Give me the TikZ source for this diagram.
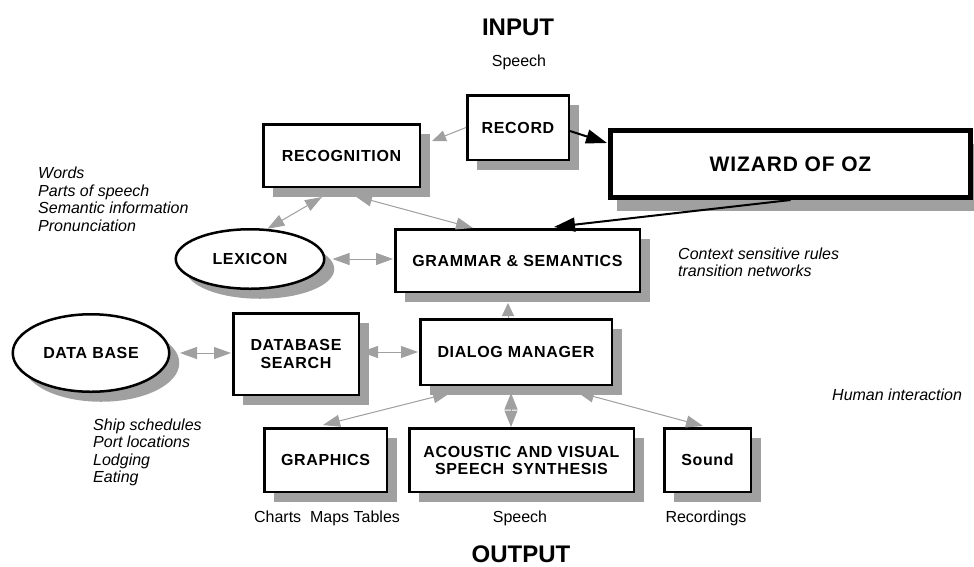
\documentclass[tikz,border=0pt]{standalone}
\usepackage{fontspec}
\setmainfont{Liberation Sans}
\newfontfamily\boxfont{Liberation Sans}[LetterSpace=4]
\usetikzlibrary{shadows,shapes.geometric,arrows.meta,calc}
\definecolor{shade}{HTML}{A0A0A0}
\tikzset{
  sh/.style={drop shadow={shadow xshift=10pt,shadow yshift=-10pt,fill=shade,opacity=1}},
  boxbase/.style={draw=black,line width=2.5pt,fill=white,rectangle,inner sep=0pt,align=center,
    font=\boxfont\bfseries\fontsize{16}{18}\selectfont},
  box/.style={boxbase,sh},
  oval/.style={boxbase,ellipse,sh},
  title/.style={inner sep=0pt,font=\bfseries\fontsize{24}{28}\selectfont},
  lab/.style={inner sep=0pt,font=\fontsize{16}{18}\selectfont},
  itl/.style={inner sep=0pt,align=left,anchor=west,font=\itshape\fontsize{16}{17.5}\selectfont},
  gdbl/.style={draw=shade,fill=shade,line width=1pt,>={Triangle[length=17pt,width=12pt]},<->},
  gone/.style={draw=shade,fill=shade,line width=1pt,>={Triangle[length=14pt,width=11pt]},->},
  gup/.style={draw=shade,fill=shade,line width=1pt,>={Triangle[length=13pt,width=12pt]},->},
  diam/.style={draw=shade,fill=shade,line width=1pt,>={Triangle[length=16.5pt,width=13pt]},<->},
  bone/.style={draw=black,fill=black,line width=2pt,>={Triangle[length=21pt,width=14pt]},->},
}
\begin{document}
\begin{tikzpicture}[x=1pt,y=-1pt]
\useasboundingbox (0,0) rectangle (974,566);
% titles and labels
\node[title] (inp) at (518,27) {INPUT};
\node[lab] (spin) at (519,62) {Speech};
\node[title] (outp) at (521,554) {OUTPUT};
\node[lab] (charts) at (327,518) {Charts\ \ Maps Tables};
\node[lab] (spout) at (520,518) {Speech};
\node[lab] (recs) at (706,518) {Recordings};
\node[itl] (words) at (38,199.5) {Words\\Parts of speech\\Semantic information\\Pronunciation};
\node[itl] (ship) at (93,452.5) {Ship schedules\\Port locations\\Lodging\\Eating};
\node[itl] (ctx) at (678,262.5) {Context sensitive rules\\transition networks};
\node[itl] (human) at (832,395) {Human interaction};
% boxes
\node[box,minimum width=101.5pt,minimum height=64.5pt] (rec) at (518,127.5) {RECORD};
\node[box,minimum width=156.5pt,minimum height=62.5pt] (recog) at (341.5,155.5) {RECOGNITION};
\node[boxbase,line width=5pt,minimum width=360pt,minimum height=67pt,
  font=\boxfont\bfseries\fontsize{21}{24}\selectfont,
  drop shadow={shadow xshift=6pt,shadow yshift=-13pt,fill=shade,opacity=1}] (wiz) at (790.5,164) {WIZARD OF OZ};
\node[oval,minimum width=148.5pt,minimum height=59.5pt] (lex) at (250,259) {LEXICON};
\node[box,minimum width=244.5pt,minimum height=62.5pt] (gram) at (517.5,260.5) {GRAMMAR \& SEMANTICS};
\node[oval,minimum width=156.5pt,minimum height=77.5pt] (db) at (91,353) {DATA BASE};
\node[box,minimum width=125.5pt,minimum height=81.5pt] (dbs) at (296,354) {DATABASE\\SEARCH};
\node[box,minimum width=191.5pt,minimum height=65.5pt] (dlg) at (516,352) {DIALOG MANAGER};
\node[box,minimum width=122.5pt,minimum height=63.5pt] (gfx) at (325.5,460) {GRAPHICS};
\node[box,minimum width=224.5pt,minimum height=63.5pt,font=\boxfont\bfseries\fontsize{16}{17}\selectfont] (aco) at (521.5,460) {ACOUSTIC AND VISUAL\\SPEECH\hspace{0.5em}SYNTHESIS};
\node[box,minimum width=86.5pt,minimum height=63.5pt] (snd) at (707.5,460) {Sound};
% connectors
\draw[gone] (rec.west) -- ([xshift=11pt,yshift=14.5pt]recog.east);
\draw[bone] ([yshift=-3.5pt]rec.east) -- ([xshift=-1pt,yshift=21pt]wiz.west);
\draw[bone] (wiz.south) -- ([xshift=36.5pt,yshift=1pt]gram.north);
\draw[gdbl] ([xshift=-19.5pt,yshift=-9pt]recog.south) -- (lex.60);
\draw[gdbl] ([xshift=13.5pt,yshift=-8pt]recog.south) -- ([xshift=-44.5pt]gram.north);
\draw[gdbl] ([xshift=7pt]lex.east) -- ([xshift=-1pt]lex.east -| gram.west);
\draw[gup] ([xshift=-8pt]dlg.north) -- ([xshift=-9.5pt,yshift=-10pt]gram.south);
\draw[gdbl] ([xshift=9.5pt]db.east) -- ([xshift=-1pt]db.east -| dbs.west);
\draw[gdbl] ([xshift=1pt]dbs.east |- dlg.west) -- ([xshift=-1pt]dlg.west);
\draw[gdbl] ([xshift=-66pt,yshift=-7pt]dlg.south) -- ([xshift=-2.5pt,yshift=2pt]gfx.north);
\draw[diam] ([xshift=-5pt,yshift=-7pt]dlg.south) -- ([xshift=-10.5pt]aco.north);
\draw[gdbl] ([xshift=61pt,yshift=-6pt]dlg.south) -- ([xshift=-4.5pt,yshift=1pt]snd.north);
\end{tikzpicture}
\end{document}
